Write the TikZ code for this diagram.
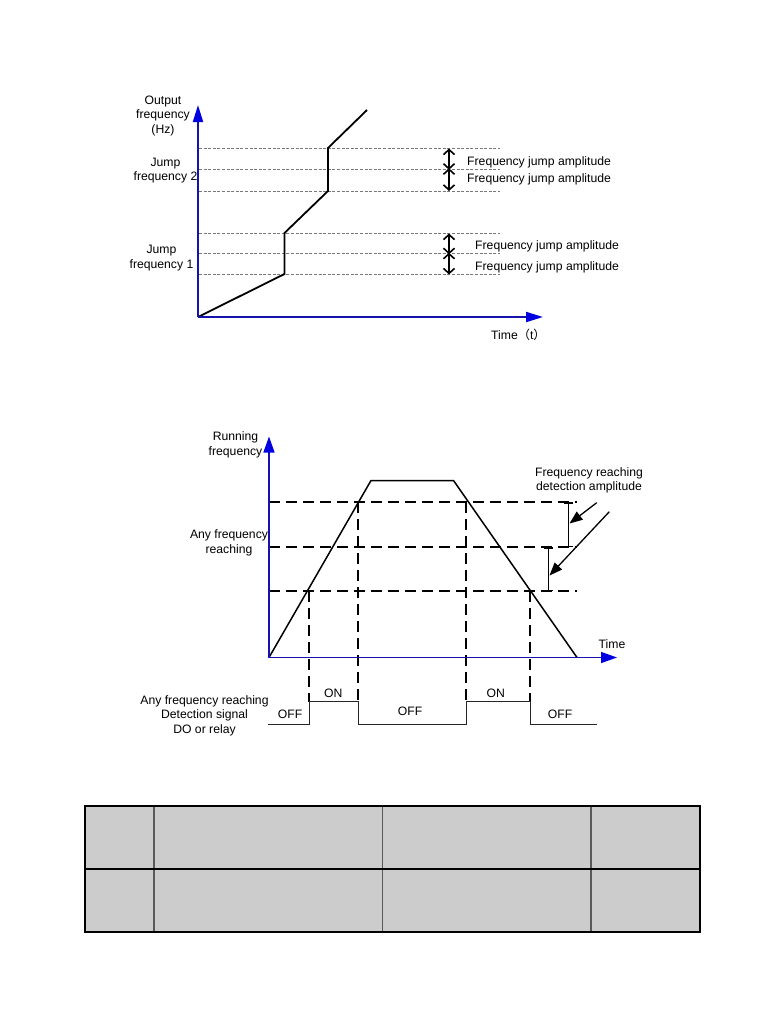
\documentclass[tikz,border=0pt]{standalone}
\usepackage{fontspec}
\setmainfont{Liberation Sans}
\newfontfamily\cjk{Noto Sans CJK SC}
\usetikzlibrary{arrows.meta}
\definecolor{axisline}{RGB}{20,20,170}
\definecolor{axishead}{RGB}{0,0,225}
\definecolor{gridgray}{RGB}{120,120,120}
\definecolor{cellgray}{RGB}{204,204,204}
\begin{document}
\begin{tikzpicture}[x=1pt,y=-1pt,
  lbl/.style={font=\fontsize{12.2}{14.6}\selectfont, inner sep=0pt, align=center},
  axisA/.style={draw=axisline, line width=2pt, -{Triangle[length=17pt,width=10pt,color=axishead,fill=axishead]}},
  axisB/.style={draw=axisline, line width=1.4pt, -{Triangle[length=16pt,width=11pt,color=axishead,fill=axishead]}},
  gdash/.style={draw=gridgray, line width=0.6pt, dash pattern=on 3pt off 1.6pt},
  curveline/.style={draw=black, line width=1.8pt, line join=miter},
  dbl/.style={draw=black, line width=1.6pt, {Straight Barb[length=5pt,width=11pt]}-{Straight Barb[length=5pt,width=11pt]}},
  bdash/.style={draw=black, line width=1.8pt, dash pattern=on 11pt off 6pt},
  trap/.style={draw=black, line width=1.5pt},
  ampbar/.style={draw=black, line width=1.5pt, {Bar[width=9pt,line width=1.5pt]}-{Bar[width=9pt,line width=1.5pt]}},
  pointer/.style={draw=black, line width=1.3pt, -{Triangle[length=13pt,width=10pt]}},
  signal/.style={draw=black!85, line width=1pt},
  cell/.style={fill=cellgray, draw=none}
]
\useasboundingbox (0,0) rectangle (766,1020);

% ================= Top chart =================
\coordinate (O1) at (198,317);
\coordinate (Y1) at (198,105);
\coordinate (X1) at (543,317);
\foreach \yy in {148,169,191,233,253,274} \draw[gdash] (199,\yy) -- (500,\yy);
\draw[curveline] (O1) -- (284.5,274) -- (284.5,233) -- (328,191) -- (328,148) -- (367,110);
\draw[axisA] (O1) -- (Y1);
\draw[axisA] (O1) -- (X1);

\coordinate (a1) at (449,148.5); \coordinate (a2) at (449,169); \coordinate (a3) at (449,191);
\coordinate (b1) at (449,233.5); \coordinate (b2) at (449,253.5); \coordinate (b3) at (449,274.5);
\draw[dbl] (a1) -- ([yshift=-0.8pt]a2);
\draw[dbl] ([yshift=0.8pt]a2) -- (a3);
\draw[dbl] (b1) -- ([yshift=-0.8pt]b2);
\draw[dbl] ([yshift=0.8pt]b2) -- (b3);

\node[lbl, anchor=base west] (fja1) at (467,165.8) {Frequency jump amplitude};
\node[lbl, anchor=base west] (fja2) at (467,182.4) {Frequency jump amplitude};
\node[lbl, anchor=base west] (fja3) at (475,249.8) {Frequency jump amplitude};
\node[lbl, anchor=base west] (fja4) at (475,270.4) {Frequency jump amplitude};

\node[lbl] (outf) at (163,116) {Output\\frequency\\(Hz)};
\node[lbl] (jf2) at (165.5,170.5) {Jump\\frequency 2};
\node[lbl] (jf1) at (161.5,258) {Jump\\frequency 1};
\node[lbl, anchor=base west] (time1) at (491,339) {Time{\cjk（}t{\cjk）}};

% ================= Middle chart =================
\coordinate (O2) at (269,657.5);
\coordinate (Y2) at (269,436.5);
\coordinate (X2) at (617,657.5);

\foreach \yy in {502,547,591} \draw[bdash] (269,\yy) -- (577,\yy);
\draw[bdash] (309,591) -- (309,701.7);
\draw[bdash] (358,502) -- (358,701.7);
\draw[bdash] (466,502) -- (466,701.7);
\draw[bdash] (530,591) -- (530,701.7);

\draw[trap] (O2) -- (371,480.5) -- (453.5,480.5) -- (577,657.5);
\draw[axisB] (O2) -- (Y2);
\draw[axisB] (O2) -- (X2);

\coordinate (m1) at (568.5,502); \coordinate (m2) at (568.5,547);
\coordinate (n1) at (548.5,547); \coordinate (n2) at (548.5,591);
\draw[ampbar] (m1) -- (m2);
\draw[ampbar] (n1) -- (n2);
\coordinate (p1s) at (596.7,502.7); \coordinate (p1e) at (569.5,523.5);
\coordinate (p2s) at (609.3,511.7); \coordinate (p2e) at (549.5,575.5);
\draw[pointer] (p1s) -- (p1e);
\draw[pointer] (p2s) -- (p2e);

\node[lbl] (fra) at (589,480.5) {Frequency reaching\\ detection amplitude};
\node[lbl] (runf) at (235.5,445) {Running\\frequency};
\node[lbl] (afr) at (229,543) {Any frequency\\reaching};
\node[lbl, anchor=base west] (time2) at (598.5,648.2) {Time};

% signal
\draw[signal] (268,724.3) -- (309,724.3) -- (309,701.7) -- (358,701.7) -- (358,724.3)
  -- (466,724.3) -- (466,701.7) -- (530,701.7) -- (530,724.3) -- (597,724.3);
\node[lbl] (afrd) at (204.5,715.5) {Any frequency reaching\\Detection signal\\DO or relay};
\node[lbl] (on1) at (333.3,693.3) {ON};
\node[lbl] (on2) at (495.7,693.3) {ON};
\node[lbl] (off1) at (290,714) {OFF};
\node[lbl] (off2) at (410,711) {OFF};
\node[lbl] (off3) at (560,714.3) {OFF};

% ================= Table =================
\fill[cell] (85,806) rectangle (700,932);
\draw[draw=black!65, line width=1.3pt] (154,806) -- (154,932);
\draw[draw=black!65, line width=1.3pt] (382.5,806) -- (382.5,932);
\draw[draw=black!65, line width=1.3pt] (591,806) -- (591,932);
\draw[black, line width=1.2pt] (85,869) -- (700,869);
\draw[black, line width=1.2pt] (85,806) rectangle (700,932);
\end{tikzpicture}
\end{document}
